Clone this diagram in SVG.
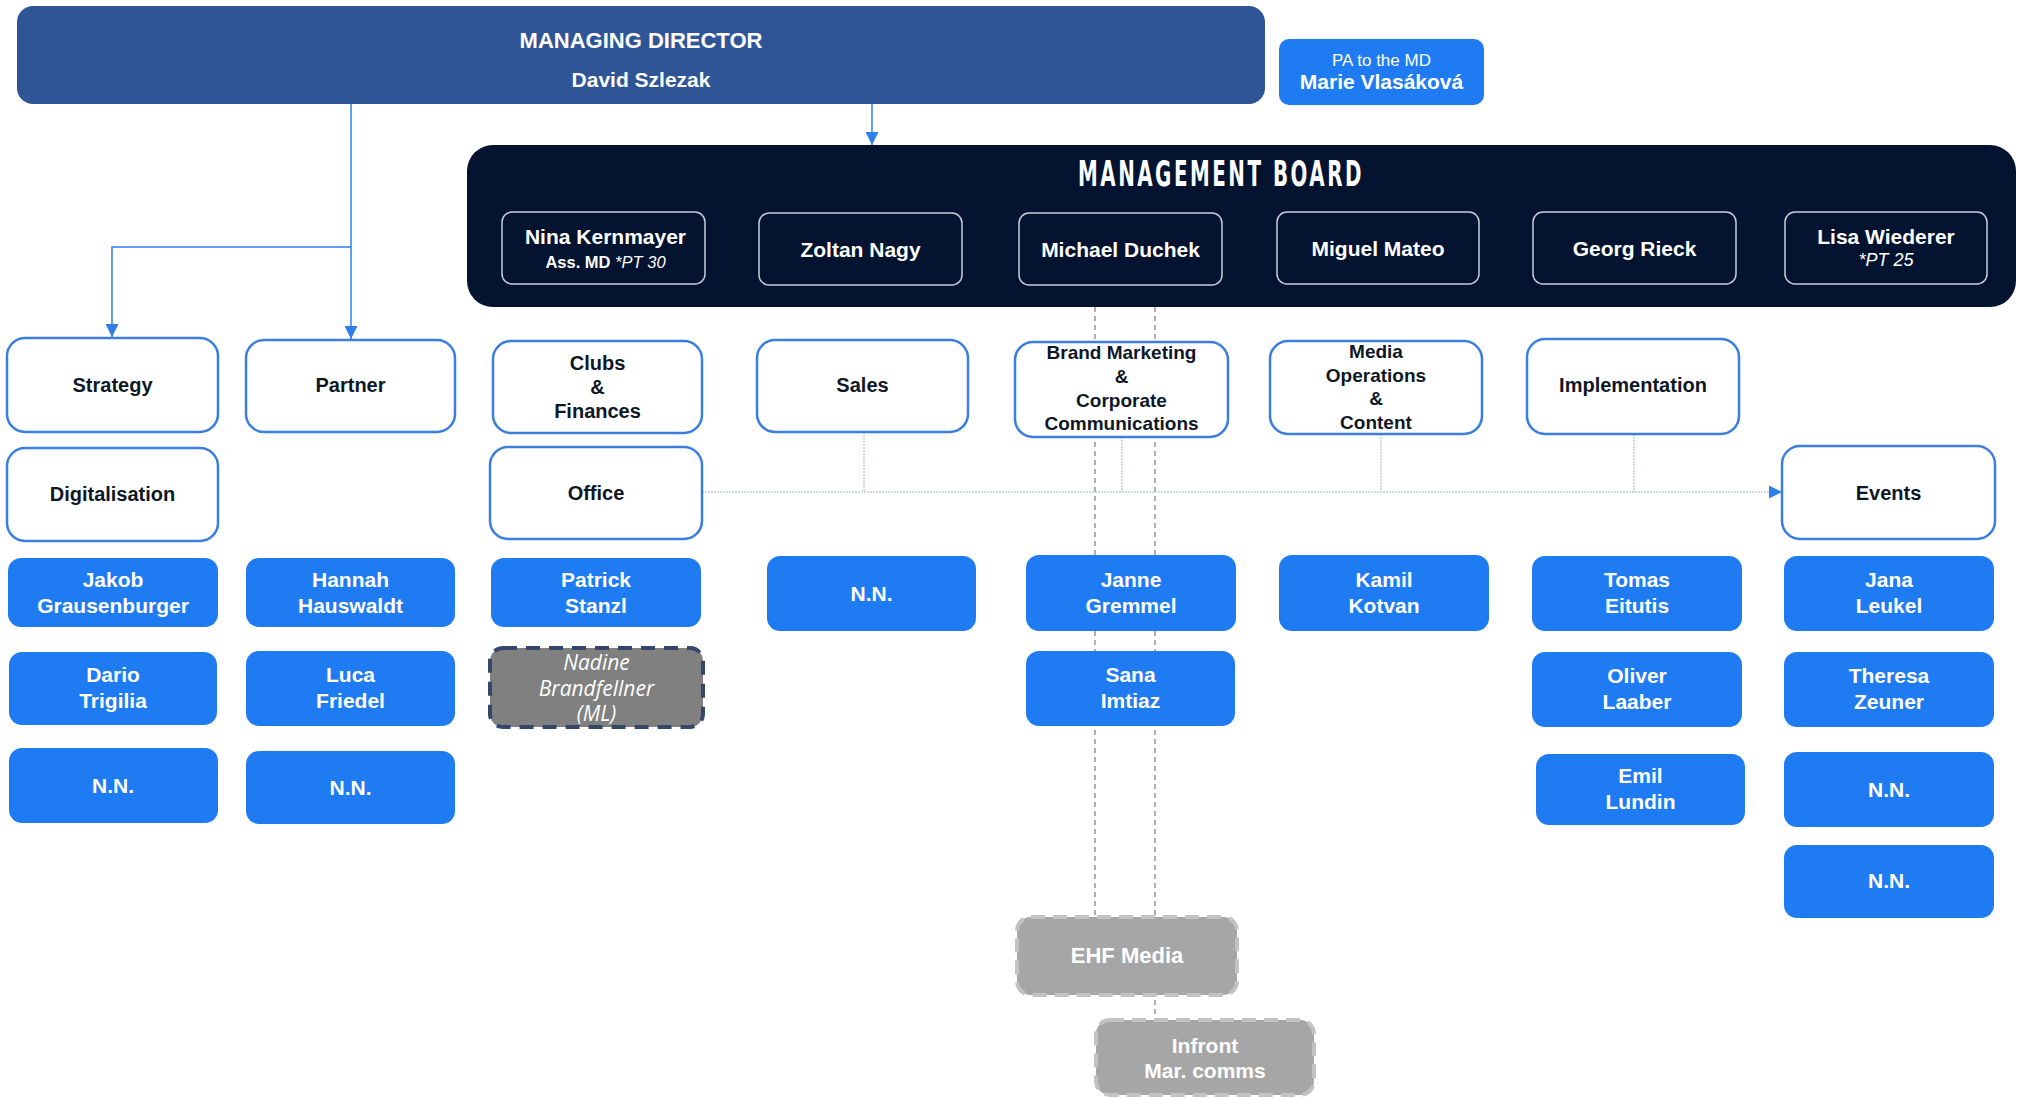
<svg xmlns="http://www.w3.org/2000/svg" width="2018" height="1097" viewBox="0 0 2018 1097">
<style>
text{font-family:"Liberation Sans",Arial,sans-serif;font-weight:bold;text-anchor:middle}
.dept{fill:#ffffff;stroke:#3A7FE0;stroke-width:2.5}
.person{fill:#1F7BF2}
.bm{fill:#04132F;stroke:#C8CDD6;stroke-width:1.5}
.dt{font-size:20px;fill:#0E1726}
.pt{font-size:21px;fill:#ffffff}
.bt{font-size:21px;fill:#ffffff}
.sub{font-size:16.5px;fill:#ffffff}
.it{font-style:italic;font-weight:normal}
.ext{fill:#A6A6A6;stroke:#C2C2C2;stroke-width:4;stroke-dasharray:14 8}
.arrow{fill:none;stroke:#2F7FEA;stroke-width:1.5}
.dot{fill:none;stroke:#C3CDDA;stroke-width:1.5;stroke-dasharray:2 1}
.dash{fill:none;stroke:#7A7A7A;stroke-width:1.2;stroke-dasharray:5 4}
.nad{font-family:"Open Sans",sans-serif;font-size:21px;fill:#ffffff}
</style>
<defs>
<marker id="arr" viewBox="0 0 12 12" refX="12" refY="6" markerWidth="13" markerHeight="13" markerUnits="userSpaceOnUse" orient="auto">
<path d="M0,0 L12,6 L0,12 z" fill="#2F7FEA"/>
</marker>
</defs>
<rect width="2018" height="1097" fill="#ffffff"/>

<g id="connectors">
<path class="arrow" d="M872,104 V145" marker-end="url(#arr)"/>
<path class="arrow" d="M351,104 V339" marker-end="url(#arr)"/>
<path class="arrow" d="M351,247 H112 V337" marker-end="url(#arr)"/>
<path class="dash" d="M1095,307 V917"/>
<path class="dash" d="M1155,307 V1020"/>
<path class="dot" d="M702,492 H1782" marker-end="url(#arr)"/>
<path class="dot" d="M864,432 V492"/>
<path class="dot" d="M1122,437 V492"/>
<path class="dot" d="M1381,434 V492"/>
<path class="dot" d="M1634,434 V492"/>
</g>

<g id="md">
<rect x="17" y="6" width="1248" height="98" rx="16" fill="#2F5596"/>
<text x="641" y="48" class="bt" style="font-size:22px">MANAGING DIRECTOR</text>
<text x="641" y="87" class="bt">David Szlezak</text>
</g>
<g id="pa">
<rect x="1279" y="39" width="205" height="66" rx="10" fill="#1F7BF2"/>
<text x="1381.5" y="66" style="font-size:17px;font-weight:normal;fill:#ffffff">PA to the MD</text>
<text x="1381.5" y="89" class="pt">Marie Vlasáková</text>
</g>

<g id="management-board">
<rect x="467" y="145" width="1549" height="162" rx="26" fill="#04132F"/>
<text x="1078" y="186" textLength="286" lengthAdjust="spacingAndGlyphs" style="font-family:'DejaVu Sans Condensed','DejaVu Sans',sans-serif;font-stretch:condensed;font-size:35px;fill:#ffffff;text-anchor:start;letter-spacing:4px">MANAGEMENT BOARD</text>
</g>
<g id="nina">
<rect class="bm" x="502" y="212" width="203" height="72" rx="10"/>
<text x="605.5" y="244" class="bt">Nina Kernmayer</text>
<text x="605.5" y="268" class="sub">Ass. MD <tspan class="it">*PT 30</tspan></text>
</g>
<g id="zoltan">
<rect class="bm" x="759" y="213" width="203" height="72" rx="10"/>
<text x="860.5" y="257" class="bt">Zoltan Nagy</text>
</g>
<g id="michael">
<rect class="bm" x="1019" y="213" width="203" height="72" rx="10"/>
<text x="1120.5" y="257" class="bt">Michael Duchek</text>
</g>
<g id="miguel">
<rect class="bm" x="1277" y="212" width="202" height="72" rx="10"/>
<text x="1378" y="256" class="bt">Miguel Mateo</text>
</g>
<g id="georg">
<rect class="bm" x="1533" y="212" width="203" height="72" rx="10"/>
<text x="1634.5" y="256" class="bt">Georg Rieck</text>
</g>
<g id="lisa">
<rect class="bm" x="1785" y="212" width="202" height="72" rx="10"/>
<text x="1886" y="244" class="bt">Lisa Wiederer</text>
<text x="1886" y="266" class="sub it" style="font-size:18px">*PT 25</text>
</g>

<g id="strategy">
<rect class="dept" x="7" y="338" width="211" height="94" rx="18"/>
<text x="112.5" y="392" class="dt">Strategy</text>
</g>
<g id="partner">
<rect class="dept" x="246" y="340" width="209" height="92" rx="18"/>
<text x="350.5" y="392" class="dt">Partner</text>
</g>
<g id="clubs-finances">
<rect class="dept" x="493" y="341" width="209" height="92" rx="18"/>
<text x="597.5" y="370" class="dt">Clubs</text>
<text x="597.5" y="394" class="dt">&amp;</text>
<text x="597.5" y="418" class="dt">Finances</text>
</g>
<g id="sales">
<rect class="dept" x="757" y="340" width="211" height="92" rx="18"/>
<text x="862.5" y="392" class="dt">Sales</text>
</g>
<g id="brand-marketing">
<rect class="dept" x="1015" y="342" width="213" height="95" rx="18"/>
<text x="1121.5" y="359" class="dt" style="font-size:19px">Brand Marketing</text>
<text x="1121.5" y="383" class="dt" style="font-size:19px">&amp;</text>
<text x="1121.5" y="407" class="dt" style="font-size:19px">Corporate</text>
<text x="1121.5" y="430" class="dt" style="font-size:19px">Communications</text>
</g>
<g id="media-operations">
<rect class="dept" x="1270" y="341" width="212" height="93" rx="18"/>
<text x="1376" y="358" class="dt" style="font-size:19px">Media</text>
<text x="1376" y="382" class="dt" style="font-size:19px">Operations</text>
<text x="1376" y="405" class="dt" style="font-size:19px">&amp;</text>
<text x="1376" y="429" class="dt" style="font-size:19px">Content</text>
</g>
<g id="implementation">
<rect class="dept" x="1527" y="339" width="212" height="95" rx="18"/>
<text x="1633" y="392" class="dt">Implementation</text>
</g>
<g id="digitalisation">
<rect class="dept" x="7" y="448" width="211" height="93" rx="18"/>
<text x="112.5" y="501" class="dt">Digitalisation</text>
</g>
<g id="office">
<rect class="dept" x="490" y="447" width="212" height="92" rx="18"/>
<text x="596" y="500" class="dt">Office</text>
</g>
<g id="events">
<rect class="dept" x="1782" y="446" width="213" height="93" rx="18"/>
<text x="1888.5" y="500" class="dt">Events</text>
</g>

<g id="jakob">
<rect class="person" x="8" y="558" width="210" height="69" rx="13"/>
<text x="113" y="587" class="pt">Jakob</text>
<text x="113" y="613" class="pt">Grausenburger</text>
</g>
<g id="dario">
<rect class="person" x="9" y="652" width="208" height="73" rx="13"/>
<text x="113" y="682" class="pt">Dario</text>
<text x="113" y="708" class="pt">Trigilia</text>
</g>
<g id="nn-strategy">
<rect class="person" x="9" y="748" width="209" height="75" rx="13"/>
<text x="113" y="793" class="pt">N.N.</text>
</g>
<g id="hannah">
<rect class="person" x="246" y="558" width="209" height="69" rx="13"/>
<text x="350.5" y="587" class="pt">Hannah</text>
<text x="350.5" y="613" class="pt">Hauswaldt</text>
</g>
<g id="luca">
<rect class="person" x="246" y="651" width="209" height="75" rx="13"/>
<text x="350.5" y="682" class="pt">Luca</text>
<text x="350.5" y="708" class="pt">Friedel</text>
</g>
<g id="nn-partner">
<rect class="person" x="246" y="751" width="209" height="73" rx="13"/>
<text x="350.5" y="795" class="pt">N.N.</text>
</g>
<g id="patrick">
<rect class="person" x="491" y="558" width="210" height="69" rx="13"/>
<text x="596" y="587" class="pt">Patrick</text>
<text x="596" y="613" class="pt">Stanzl</text>
</g>
<g id="nadine">
<rect x="490" y="648" width="213" height="79" rx="13" fill="#808080" stroke="#34466A" stroke-width="4" stroke-dasharray="14 9"/>
<text x="596.5" y="670" class="nad it">Nadine</text>
<text x="596.5" y="696" class="nad it">Brandfellner</text>
<text x="596.5" y="721" class="nad it">(ML)</text>
</g>
<g id="nn-sales">
<rect class="person" x="767" y="556" width="209" height="75" rx="13"/>
<text x="871.5" y="601" class="pt">N.N.</text>
</g>
<g id="janne">
<rect class="person" x="1026" y="555" width="210" height="76" rx="13"/>
<text x="1131" y="587" class="pt">Janne</text>
<text x="1131" y="613" class="pt">Gremmel</text>
</g>
<g id="sana">
<rect class="person" x="1026" y="651" width="209" height="75" rx="13"/>
<text x="1130.5" y="682" class="pt">Sana</text>
<text x="1130.5" y="708" class="pt">Imtiaz</text>
</g>
<g id="kamil">
<rect class="person" x="1279" y="555" width="210" height="76" rx="13"/>
<text x="1384" y="587" class="pt">Kamil</text>
<text x="1384" y="613" class="pt">Kotvan</text>
</g>
<g id="tomas">
<rect class="person" x="1532" y="556" width="210" height="75" rx="13"/>
<text x="1637" y="587" class="pt">Tomas</text>
<text x="1637" y="613" class="pt">Eitutis</text>
</g>
<g id="oliver">
<rect class="person" x="1532" y="652" width="210" height="75" rx="13"/>
<text x="1637" y="683" class="pt">Oliver</text>
<text x="1637" y="709" class="pt">Laaber</text>
</g>
<g id="emil">
<rect class="person" x="1536" y="754" width="209" height="71" rx="13"/>
<text x="1640.5" y="783" class="pt">Emil</text>
<text x="1640.5" y="809" class="pt">Lundin</text>
</g>
<g id="jana">
<rect class="person" x="1784" y="556" width="210" height="75" rx="13"/>
<text x="1889" y="587" class="pt">Jana</text>
<text x="1889" y="613" class="pt">Leukel</text>
</g>
<g id="theresa">
<rect class="person" x="1784" y="652" width="210" height="75" rx="13"/>
<text x="1889" y="683" class="pt">Theresa</text>
<text x="1889" y="709" class="pt">Zeuner</text>
</g>
<g id="nn-events-1">
<rect class="person" x="1784" y="752" width="210" height="75" rx="13"/>
<text x="1889" y="797" class="pt">N.N.</text>
</g>
<g id="nn-events-2">
<rect class="person" x="1784" y="845" width="210" height="73" rx="13"/>
<text x="1889" y="888" class="pt">N.N.</text>
</g>

<g id="ehf-media">
<rect class="ext" x="1017" y="917" width="220" height="78" rx="14"/>
<text x="1127" y="963" class="pt" style="font-size:22px">EHF Media</text>
</g>
<g id="infront">
<rect class="ext" x="1096" y="1020" width="218" height="75" rx="14"/>
<text x="1205" y="1053" class="pt">Infront</text>
<text x="1205" y="1078" class="pt">Mar. comms</text>
</g>
</svg>
